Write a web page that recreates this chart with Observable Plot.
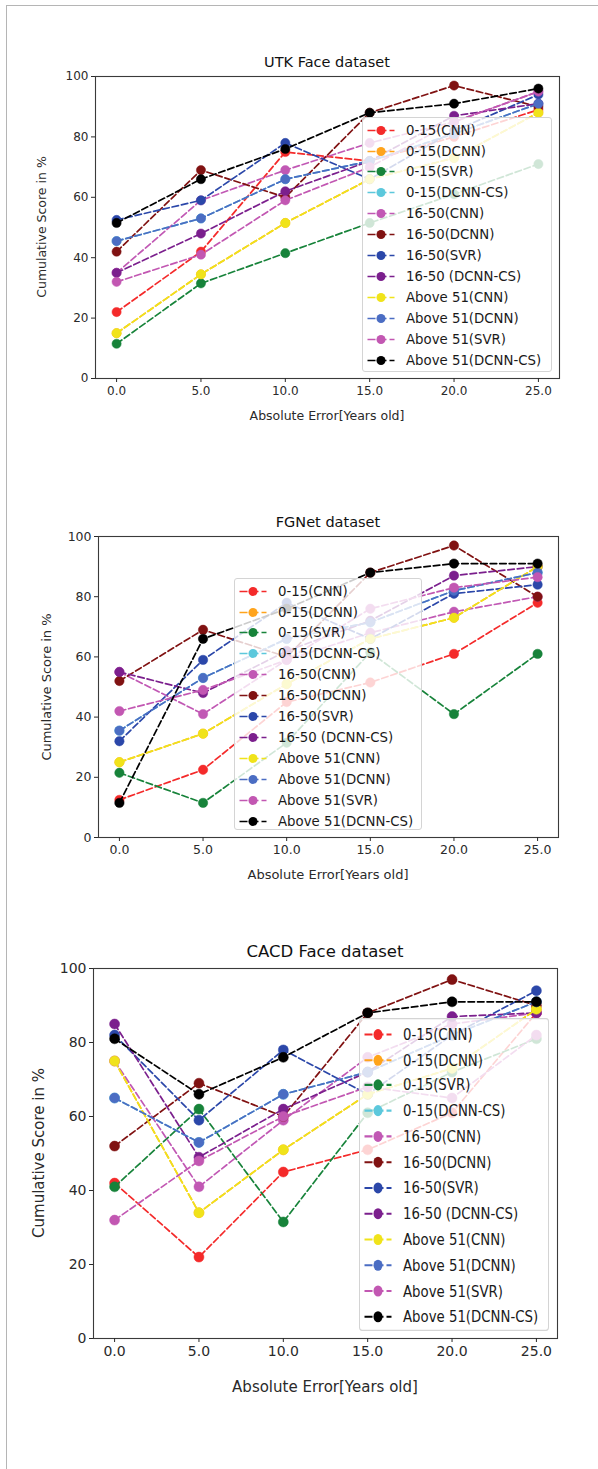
<!DOCTYPE html>
<html>
<head>
<meta charset="utf-8">
<script src="https://cdn.jsdelivr.net/npm/d3@7"></script>
<script src="https://cdn.jsdelivr.net/npm/@observablehq/plot@0.6"></script>
<style>
  html, body { margin: 0; padding: 0; background: #fff; }
  #page { position: relative; width: 598px; height: 1469px; overflow: hidden; background: #fff;
          font-family: "DejaVu Sans", sans-serif; color: #1a1a1a; }
  #page svg { position: absolute; left: 0; }
  .txt { position: absolute; white-space: nowrap; line-height: 1; }
  .legend { position: absolute; background: rgba(255,255,255,0.8); border: 1px solid #d4d4d4;
            border-radius: 3px; box-sizing: border-box; z-index: 5; transform-origin: 0 0; }
  .legend .row { position: absolute; left: 0; height: 21px; display: flex; align-items: center; }
  .legend .row span { position: absolute; left: 43px; white-space: nowrap; color: #1a1a1a; }
</style>
</head>
<body>
<div id="page"></div>
<script>
// ---------- data ----------
const errors = [0, 5, 10, 15, 20, 25];
const yTicks = [0, 20, 40, 60, 80, 100];
const seriesNames = [
  "0-15(CNN)", "0-15(DCNN)", "0-15(SVR)", "0-15(DCNN-CS)",
  "16-50(CNN)", "16-50(DCNN)", "16-50(SVR)", "16-50 (DCNN-CS)",
  "Above 51(CNN)", "Above 51(DCNN)", "Above 51(SVR)", "Above 51(DCNN-CS)"
];
const seriesColors = [
  "#f42a2a", "#ffa41c", "#17833a", "#5cc8dc",
  "#c158b4", "#801212", "#2b47a9", "#7b1f8d",
  "#f0e31a", "#4b6dc3", "#c257b2", "#000000"
];
const panelTitles = ["UTK Face dataset", "FGNet dataset", "CACD Face dataset"];
const xAxisLabel = "Absolute Error[Years old]";
const yAxisLabel = "Cumulative Score in %";

// cumulative score (%) per series, at errors 0,5,10,15,20,25
const utkScores = [
  [22, 42, 75, 72, 80, 89],
  [15, 34.5, 51.5, 66, 73, 88],
  [11.5, 31.5, 41.5, 51.5, 61, 71],
  [45.5, 53, 66, 72, 81, 91],
  [35, 59, 69, 78, 85, 95],
  [42, 69, 60, 88, 97, 90],
  [52.5, 59, 78, 66, 82, 94],
  [35, 48, 62, 72, 87, 91],
  [15, 34.5, 51.5, 66, 73, 88],
  [45.5, 53, 66, 72, 81, 91],
  [32, 41, 59, 70, 85, 95],
  [51.5, 66, 76, 88, 91, 96]
];
const fgnetScores = [
  [12.5, 22.5, 45, 51.5, 61, 78],
  [25, 34.5, 51, 66, 73, 90],
  [21.5, 11.5, 31.5, 61.5, 41, 61],
  [35.5, 53, 66, 71.5, 82, 88],
  [55, 41, 59, 68, 75, 80],
  [52, 69, 60, 88, 97, 80],
  [32, 59, 78, 66, 81, 84],
  [55, 48, 62, 72, 87, 90],
  [25, 34.5, 51, 66, 73, 90],
  [35.5, 53, 66, 71.5, 82, 88],
  [42, 49, 59, 76, 83, 86.5],
  [11.5, 66, 76, 88, 91, 91]
];
const cacdScores = [
  [42, 22, 45, 51, 61, 88],
  [75, 34, 51, 66, 73, 89],
  [41, 62, 31.5, 61, 72, 81],
  [65, 53, 66, 72, 82, 91],
  [75, 41, 59, 76, 85, 88],
  [52, 69, 60, 88, 97, 90],
  [82, 59, 78, 66, 82, 94],
  [85, 49, 62, 72, 87, 88],
  [75, 34, 51, 66, 73, 89],
  [65, 53, 66, 72, 82, 91],
  [32, 48, 60, 68, 65, 82],
  [81, 66, 76, 88, 91, 91]
];

// ---------- layout ----------
const page = document.getElementById("page");

// outer thin frame lines of the figure
function addLine(css) {
  const d = document.createElement("div");
  Object.assign(d.style, { position: "absolute", background: "#b5b5b5", ...css });
  page.appendChild(d);
}
addLine({ left: "6px", top: "5px", width: "592px", height: "1px" });
addLine({ left: "6px", top: "5px", width: "1px", height: "1464px" });

function addText(txt, css, extraTransform = "") {
  const d = document.createElement("div");
  d.className = "txt";
  d.textContent = txt;
  Object.assign(d.style, css);
  d.style.transform = "translate(-50%,-50%) " + extraTransform;
  page.appendChild(d);
  return d;
}

const panels = [
  { scores: utkScores,   svgTop: 0,   H: 440, fx0: 95, fx1: 559, fy0: 76,  fy1: 378, r: 4.6,
    tickFont: 12, titleFont: 14.5, labelFont: 12.5, titleY: 62, xLabY: 416, yLabX: 42,
    legend: { left: 362, top: 117, w: 190, h: 255, sy: 1 } },
  { scores: fgnetScores, svgTop: 460, H: 440, fx0: 98, fx1: 558, fy0: 536, fy1: 837, r: 4.7,
    tickFont: 12.5, titleFont: 14.5, labelFont: 13, titleY: 522, xLabY: 874, yLabX: 46,
    legend: { left: 234, top: 578, w: 188, h: 252, sy: 1 } },
  { scores: cacdScores,  svgTop: 890, H: 530, fx0: 93, fx1: 557, fy0: 968, fy1: 1338, r: 5,
    tickFont: 14, titleFont: 16.5, labelFont: 15, titleY: 952, xLabY: 1387, yLabX: 39,
    legend: { left: 359, top: 1018, w: 190, h: 255, sy: 1.227 } }
];

panels.forEach((p, k) => {
  const rows = seriesNames.flatMap((s, i) =>
    errors.map((e, j) => ({ series: s, error: e, score: p.scores[i][j] })));
  const seriesMarks = seriesNames.flatMap(s => {
    const d = rows.filter(r => r.series === s);
    return [
      Plot.line(d, { x: "error", y: "score", stroke: "series", strokeWidth: 1.7,
                     strokeDasharray: "6.5,3" }),
      Plot.dot(d, { x: "error", y: "score", fill: "series", stroke: "series",
                    strokeWidth: 0.5, r: p.r })
    ];
  });
  const svg = Plot.plot({
    width: 598,
    height: p.H,
    marginTop: p.fy0 - p.svgTop,
    marginBottom: p.H - (p.fy1 - p.svgTop),
    marginLeft: p.fx0,
    marginRight: 598 - p.fx1,
    x: { domain: [-1.25, 26.25], label: null },
    y: { domain: [0, 100], label: null },
    color: { domain: seriesNames, range: seriesColors },
    style: { fontFamily: "DejaVu Sans, sans-serif", fontSize: p.tickFont + "px",
             color: "#2a2a2a", background: "transparent", overflow: "visible" },
    marks: [
      ...seriesMarks,
      Plot.frame({ stroke: "#3a3a3a", strokeWidth: 1.1 }),
      Plot.axisX({ ticks: errors, tickFormat: d3.format(".1f"), tickSize: 4,
                   tickPadding: 4, label: null }),
      Plot.axisY({ ticks: yTicks, tickSize: 4, tickPadding: 3, label: null })
    ]
  });
  svg.style.top = p.svgTop + "px";
  page.appendChild(svg);

  const cx = (p.fx0 + p.fx1) / 2;
  addText(panelTitles[k], { left: cx + "px", top: p.titleY + "px", fontSize: p.titleFont + "px", color: "#111" });
  addText(xAxisLabel, { left: cx + "px", top: p.xLabY + "px", fontSize: p.labelFont + "px", color: "#2a2a2a" });
  addText(yAxisLabel, { left: p.yLabX + "px", top: ((p.fy0 + p.fy1) / 2) + "px",
                        fontSize: p.labelFont + "px", color: "#2a2a2a" }, "rotate(-90deg)");

  // legend (matplotlib style, semi-transparent box inside the axes)
  const L = p.legend;
  const box = document.createElement("div");
  box.className = "legend";
  Object.assign(box.style, { left: L.left + "px", top: L.top + "px", width: L.w + "px",
                             height: L.h + "px", transform: `scaleY(${L.sy})` });
  const rowH = 20.9;
  seriesNames.forEach((s, i) => {
    const row = document.createElement("div");
    row.className = "row";
    row.style.top = (1.6 + i * rowH) + "px";
    row.style.width = L.w + "px";
    const ns = "http://www.w3.org/2000/svg";
    const icon = document.createElementNS(ns, "svg");
    icon.setAttribute("width", "40");
    icon.setAttribute("height", "21");
    icon.style.position = "absolute";
    icon.style.left = "0";
    icon.style.top = "0";
    const ln = document.createElementNS(ns, "line");
    ln.setAttribute("x1", "4.5"); ln.setAttribute("x2", "31.5");
    ln.setAttribute("y1", "10.5"); ln.setAttribute("y2", "10.5");
    ln.setAttribute("stroke", seriesColors[i]);
    ln.setAttribute("stroke-width", "1.7");
    ln.setAttribute("stroke-dasharray", "8,3");
    const c = document.createElementNS(ns, "circle");
    c.setAttribute("cx", "18"); c.setAttribute("cy", "10.5"); c.setAttribute("r", "4.5");
    c.setAttribute("fill", seriesColors[i]);
    icon.appendChild(ln); icon.appendChild(c);
    const t = document.createElement("span");
    t.textContent = s;
    t.style.fontSize = "13.3px";
    t.style.top = "3px";
    row.appendChild(icon);
    row.appendChild(t);
    box.appendChild(row);
  });
  page.appendChild(box);
});
</script>
</body>
</html>
